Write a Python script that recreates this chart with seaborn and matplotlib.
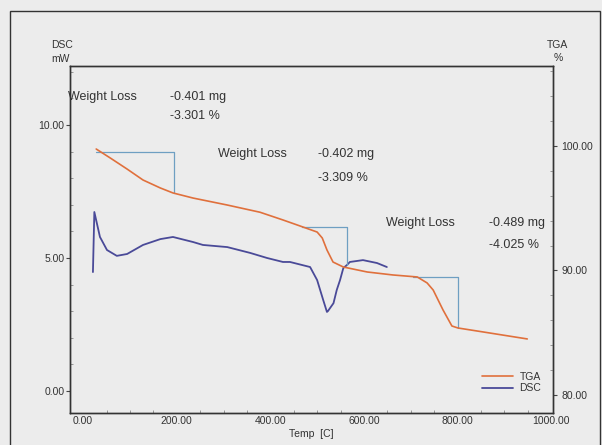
import numpy as np
import pandas as pd
import matplotlib
matplotlib.use("Agg")
import matplotlib.pyplot as plt
from matplotlib.patches import Rectangle
from matplotlib.ticker import MultipleLocator, FormatStrFormatter
import seaborn as sns

# ---- data ----
tga_temp = [28, 58, 94, 128, 165, 192, 235, 308, 378, 427, 464, 500, 511, 521, 534,
            556, 607, 662, 714, 735, 748, 769, 788, 801, 855, 949]
tga_pct = [99.76, 99.04, 98.15, 97.27, 96.63, 96.23, 95.82, 95.26, 94.68, 94.06, 93.57,
           93.09, 92.61, 91.65, 90.68, 90.28, 89.88, 89.64, 89.48, 89.0, 88.43, 86.83,
           85.54, 85.38, 85.06, 84.5]

dsc_temp = [21, 24, 36, 51, 72, 94, 128, 165, 192, 235, 256, 308, 357, 393, 427, 442,
            485, 500, 513, 521, 523, 535, 542, 549, 556, 564, 570, 598, 628, 649]
dsc_mw = [4.47, 6.73, 5.79, 5.30, 5.08, 5.15, 5.49, 5.71, 5.79, 5.60, 5.49, 5.41, 5.19,
          5.0, 4.85, 4.85, 4.66, 4.17, 3.42, 2.97, 3.0, 3.3, 3.8, 4.17, 4.62, 4.74, 4.85,
          4.92, 4.81, 4.66]

# weight-loss step markers: start temp, end temp, top %, bottom %
step_start = [28, 468, 705]
step_end = [194, 564, 801]
step_top = [99.52, 93.49, 89.48]
step_bottom = [96.23, 90.45, 85.38]

loss_mg = ["-0.401 mg", "-0.402 mg", "-0.489 mg"]
loss_pct = ["-3.301 %", "-3.309 %", "-4.025 %"]

x_ticks = [0, 200, 400, 600, 800, 1000]
dsc_ticks = [0, 5, 10]
tga_ticks = [80, 90, 100]

# ---- style ----
sns.set_theme(style="white")
plt.rcParams["font.family"] = ["Liberation Sans", "DejaVu Sans"]
bg = "#ececec"
txt = "#333333"
tga_color = "#e0703c"
dsc_color = "#4a4a98"
step_color = "#6e9fc2"

fig = plt.figure(figsize=(6.02, 4.45), dpi=100, facecolor=bg)
ax = fig.add_axes([70/602, 1-413/445, (553-70)/602, (413-66)/445])
ax.set_facecolor(bg)
ax2 = ax.twinx()

# outer frame
fig.patches.append(Rectangle((10/602, -0.05), (600-10)/602, (445-11)/445 + 0.05,
                             transform=fig.transFigure, fill=False,
                             edgecolor="#333333", linewidth=1.0))

dsc_df = pd.DataFrame({"Temp": dsc_temp, "DSC": dsc_mw})
tga_df = pd.DataFrame({"Temp": tga_temp, "TGA": tga_pct})

sns.lineplot(data=dsc_df, x="Temp", y="DSC", ax=ax, color=dsc_color, lw=1.3,
             sort=False, estimator=None)
sns.lineplot(data=tga_df, x="Temp", y="TGA", ax=ax2, color=tga_color, lw=1.2,
             sort=False, estimator=None)

for s, e, t, b in zip(step_start, step_end, step_top, step_bottom):
    ax2.plot([s, e, e], [t, t, b], color=step_color, lw=0.9, zorder=1)

ax.set_xlim(-28, 1004)
ax.set_ylim(-0.83, 12.22)
ax2.set_ylim(78.55, 106.43)

ax.set_xticks(x_ticks)
ax.xaxis.set_minor_locator(MultipleLocator(50))
ax.set_yticks(dsc_ticks)
ax.yaxis.set_minor_locator(MultipleLocator(1))
ax2.set_yticks(tga_ticks)
ax2.yaxis.set_minor_locator(MultipleLocator(2))
ax.xaxis.set_major_formatter(FormatStrFormatter("%.2f"))
ax.yaxis.set_major_formatter(FormatStrFormatter("%.2f"))
ax2.yaxis.set_major_formatter(FormatStrFormatter("%.2f"))

ax.tick_params(axis="x", which="major", direction="in", length=4, width=0.8,
               colors="#444444", labelcolor=txt, labelsize=7.5, pad=2)
ax.tick_params(axis="x", which="minor", direction="in", length=2, width=0.6,
               colors="#888888", bottom=True)
ax.tick_params(axis="y", which="major", direction="out", length=3, width=0.8,
               colors="#444444", labelcolor=txt, labelsize=7.5, pad=1, left=True)
ax.tick_params(axis="y", which="minor", direction="in", length=2, width=0.6,
               colors="#888888", left=True)
ax2.tick_params(axis="y", which="major", direction="out", length=3, width=0.8,
                colors="#444444", labelcolor=txt, labelsize=7.5, pad=3, right=True)
ax2.tick_params(axis="y", which="minor", direction="in", length=2, width=0.6,
                colors="#888888", right=True)

for a in (ax, ax2):
    for sp in a.spines.values():
        sp.set_visible(True)
        sp.set_color("#333333")
        sp.set_linewidth(1.0)

ax.set_xlabel("Temp  [C]", fontsize=7.5, color=txt, labelpad=2)
ax.set_ylabel("")
ax2.set_ylabel("")
fig.text(51/602, 1-45/445, "DSC", fontsize=7.5, color=txt, ha="left", va="center")
fig.text(51/602, 1-59/445, "mW", fontsize=7.5, color=txt, ha="left", va="center")
fig.text(557/602, 1-45/445, "TGA", fontsize=7.5, color=txt, ha="center", va="center")
fig.text(558/602, 1-58/445, "%", fontsize=7.5, color=txt, ha="center", va="center")

# annotations (figure pixel positions)
label_x = [68, 218, 386]
value_x = [170, 318, 489]
row1_y = [97, 154, 223]
row2_y = [116, 178, 245]
for lx, vx, y1, y2, mg, pc in zip(label_x, value_x, row1_y, row2_y, loss_mg, loss_pct):
    fig.text(lx/602, 1-y1/445, "Weight Loss", fontsize=9, color=txt, va="center")
    fig.text(vx/602, 1-y1/445, mg, fontsize=9, color=txt, va="center")
    fig.text(vx/602, 1-y2/445, pc, fontsize=9, color=txt, va="center")

# legend
h1, = ax.plot([], [], color=tga_color, lw=1.2, label="TGA")
h2, = ax.plot([], [], color=dsc_color, lw=1.3, label="DSC")
leg = ax.legend(handles=[h1, h2], loc="lower right", bbox_to_anchor=(0.995, 0.03),
                frameon=False, fontsize=7.5, handlelength=3.0, handletextpad=0.6,
                labelspacing=0.15, markerfirst=True, labelcolor=txt)
leg.set_zorder(5)

fig.savefig("out.png", dpi=100, facecolor=bg)
